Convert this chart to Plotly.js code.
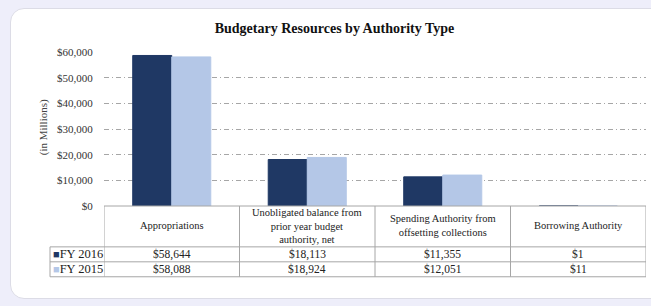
<!DOCTYPE html>
<html>
<head>
<meta charset="utf-8">
<script src="https://cdn.plot.ly/plotly-3.0.1.min.js"></script>
<style>
  html, body { margin: 0; padding: 0; width: 651px; height: 306px; overflow: hidden; background: #eeeefa; }
  #card { position: absolute; left: 10px; top: 8px; width: 680px; height: 289px; background: #fff; border: 1px solid #dcdce6; border-radius: 14px; }
  #chart { position: absolute; left: 0; top: 0; width: 651px; height: 306px; }
</style>
</head>
<body>
<div id="card"></div>
<div id="chart"></div>
<script>
// ---- data ----
const categories = ["Appropriations", "Unobligated balance from<br>prior year budget<br>authority, net", "Spending Authority from<br>offsetting collections", "Borrowing Authority"];
const seriesNames = ["FY 2016", "FY 2015"];
const fy2016 = [58644, 18113, 11355, 1];
const fy2015 = [58088, 18924, 12051, 11];
const yTickVals = [0, 10000, 20000, 30000, 40000, 50000, 60000];
const yTickText = ["$0", "$10,000", "$20,000", "$30,000", "$40,000", "$50,000", "$60,000"];
const colors = ["#1f3864", "#b4c7e7"];

// ---- layout geometry ----
const W = 651, H = 306;
const mL = 104, mR = 5, mT = 51.5, mB = 100;
const plotH = H - mT - mB, plotW = W - mL - mR;
const py = p => (H - mB - p) / plotH;   // pixel y -> paper y
const pxp = p => (p - mL) / plotW;      // pixel x -> paper x

const xs = categories.map((c, i) => i);
const fmt = v => "$" + v.toLocaleString("en-US");
const serif = "Liberation Serif";
const lineCol = "#a6a6a6";

const traces = [fy2016, fy2015].map((vals, k) => ({
  type: "bar",
  x: xs,
  y: vals,
  name: seriesNames[k],
  marker: { color: colors[k], line: { color: colors[k], width: 1 } },
  hoverinfo: "none"
}));

const shapes = [];
const yTop = py(206), yHead = py(247), yR1 = py(262), yR2 = py(277);
for (let b = -0.5; b <= categories.length - 0.5; b += 1) {
  shapes.push({ type: "line", xref: "x", yref: "paper", x0: b, x1: b, y0: yTop, y1: yR2, line: { color: lineCol, width: 1 } });
}
shapes.push({ type: "line", xref: "paper", yref: "paper", x0: 0, x1: 1, y0: yTop, y1: yTop, line: { color: lineCol, width: 1 } });
const legL = pxp(50);
[yHead, yR1, yR2].forEach(y => shapes.push({ type: "line", xref: "paper", yref: "paper", x0: legL, x1: 1, y0: y, y1: y, line: { color: lineCol, width: 1 } }));
shapes.push({ type: "line", xref: "paper", yref: "paper", x0: legL, x1: legL, y0: yHead, y1: yR2, line: { color: lineCol, width: 1 } });

const annotations = [];
const hf = { family: serif, size: 10.5, color: "#222" };
const tf = { family: serif, size: 11.5, color: "#222" };
categories.forEach((c, i) => {
  annotations.push({ xref: "x", yref: "paper", x: i, y: py(226), text: c, showarrow: false, font: hf, align: "center", yanchor: "middle" });
  annotations.push({ xref: "x", yref: "paper", x: i, y: (yHead + yR1) / 2, text: fmt(fy2016[i]), showarrow: false, font: tf, yanchor: "middle" });
  annotations.push({ xref: "x", yref: "paper", x: i, y: (yR1 + yR2) / 2, text: fmt(fy2015[i]), showarrow: false, font: tf, yanchor: "middle" });
});
[[yHead, yR1], [yR1, yR2]].forEach((r, k) => {
  annotations.push({ xref: "paper", yref: "paper", x: pxp(51), xanchor: "left", y: (r[0] + r[1]) / 2, yanchor: "middle",
    text: '<span style="color:' + colors[k] + ';font-size:11px">■</span>' + seriesNames[k], showarrow: false, font: { family: serif, size: 12.5, color: "#222" } });
});
annotations.push({ xref: "paper", yref: "paper", x: pxp(43), y: py(127), text: "(in Millions)", textangle: -90, showarrow: false,
  font: { family: serif, size: 11, color: "#444" }, xanchor: "center", yanchor: "middle" });

const layout = {
  width: W, height: H,
  margin: { l: mL, r: mR, t: mT, b: mB },
  paper_bgcolor: "rgba(0,0,0,0)",
  plot_bgcolor: "rgba(0,0,0,0)",
  showlegend: false,
  barmode: "group",
  bargap: 0.424,
  bargroupgap: 0,
  font: { family: serif },
  title: { text: "<b>Budgetary Resources by Authority Type</b>", font: { family: serif, size: 14, color: "#111" },
    xref: "paper", x: pxp(334.5), xanchor: "center", yref: "container", y: 1 - 27.7 / H, yanchor: "middle" },
  xaxis: { range: [-0.5, categories.length - 0.5], showticklabels: false, showgrid: false, zeroline: false, showline: false, fixedrange: true },
  yaxis: { range: [0, 60000], tickvals: yTickVals, ticktext: yTickText, showgrid: true, gridcolor: "#a6a6a6", griddash: "5px,3px,1px,3px", gridwidth: 1,
    zeroline: false, showline: false, ticks: "outside", ticklen: 8, tickcolor: "rgba(0,0,0,0)",
    tickfont: { family: serif, size: 11, color: "#333" }, fixedrange: true },
  shapes: shapes,
  annotations: annotations
};

Plotly.newPlot("chart", traces, layout, { staticPlot: true, displayModeBar: false });
</script>
</body>
</html>
